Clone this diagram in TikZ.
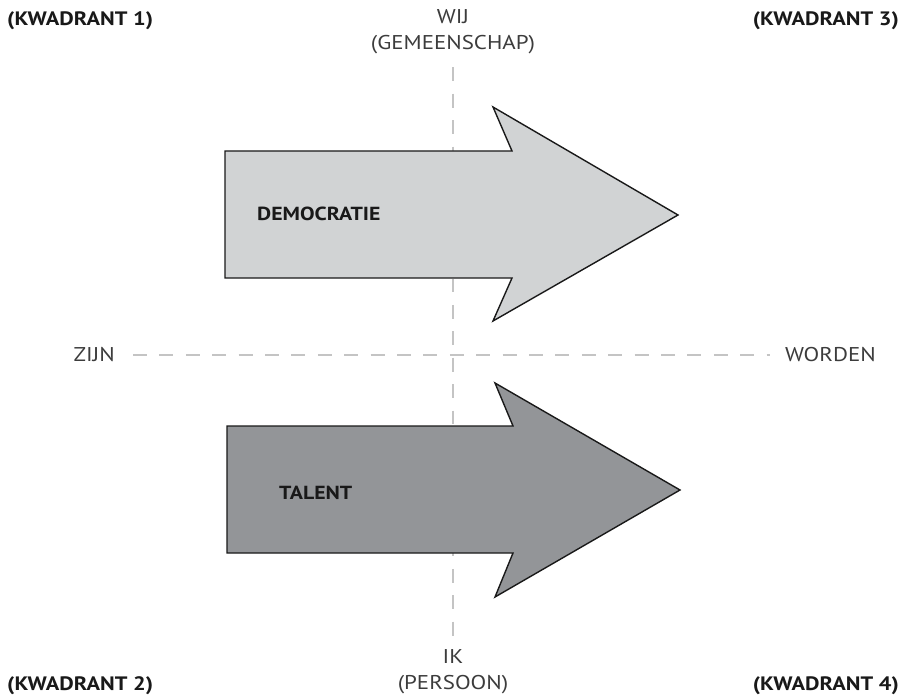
\documentclass[tikz,border=0pt]{standalone}
\usepackage{fontspec}
\setmainfont{PT Sans}[FakeStretch=1.15]
\usetikzlibrary{positioning}
\definecolor{lightfill}{HTML}{D1D3D4}
\definecolor{darkfill}{HTML}{939598}
\definecolor{axisgray}{HTML}{C4C4C4}
\definecolor{polegray}{HTML}{3C3C3C}
\tikzset{
  axis/.style={axisgray, line width=1.3pt, dash pattern=on 14pt off 12.5pt},
  bigarrow/.style={draw=black!90, line width=1.4pt, line join=miter},
  quadrant/.style={font=\bfseries\fontsize{19.5}{22}\selectfont, text=black!90, inner sep=0pt},
  pole/.style={font=\fontsize{20}{26}\selectfont, text=polegray, inner sep=0pt, align=center},
  inarrow/.style={font=\bfseries\fontsize{19}{22}\selectfont, text=black!90, inner sep=0pt, anchor=west}
}

\begin{document}
\begin{tikzpicture}[x=1bp,y=-1bp]
\useasboundingbox (0,0) rectangle (900,698);

% Corner labels
\node[quadrant, anchor=north west] (q1) at (7,11)  {(KWADRANT 1)};
\node[quadrant, anchor=north east] (q3) at (899,11) {(KWADRANT 3)};
\node[quadrant, anchor=south west] (q2) at (7,695)  {(KWADRANT 2)};
\node[quadrant, anchor=south east] (q4) at (899,695) {(KWADRANT 4)};

% Poles of the axes
\node[pole] (wij) at (453,32) {WIJ\\(GEMEENSCHAP)};
\node[pole] (ik)  at (453,672) {IK\\(PERSOON)};
\node[pole, anchor=east] (zijn)   at (115,355) {ZIJN};
\node[pole, anchor=west] (worden) at (785,355) {WORDEN};

% Dashed axes
\draw[axis, shorten <=13bp, shorten >=12bp] (wij) -- (ik);
\draw[axis, shorten <=18bp, shorten >=15bp] (zijn) -- (worden);

% Upper arrow
\coordinate (u1) at (225,151);
\coordinate (u2) at (512,151);
\coordinate (u3) at (493,107);
\coordinate (u4) at (678,215);
\coordinate (u5) at (493,321);
\coordinate (u6) at (512,278);
\coordinate (u7) at (225,278);
\filldraw[bigarrow, fill=lightfill] (u1) -- (u2) -- (u3) -- (u4) -- (u5) -- (u6) -- (u7) -- cycle;
\node[inarrow] (democratie) at (257,214) {DEMOCRATIE};

% Lower arrow
\coordinate (l1) at (227,426);
\coordinate (l2) at (513,426);
\coordinate (l3) at (495,383);
\coordinate (l4) at (680,490);
\coordinate (l5) at (495,597);
\coordinate (l6) at (513,553);
\coordinate (l7) at (227,553);
\filldraw[bigarrow, fill=darkfill] (l1) -- (l2) -- (l3) -- (l4) -- (l5) -- (l6) -- (l7) -- cycle;
\node[inarrow] (talent) at (279,493) {TALENT};
\end{tikzpicture}
\end{document}
